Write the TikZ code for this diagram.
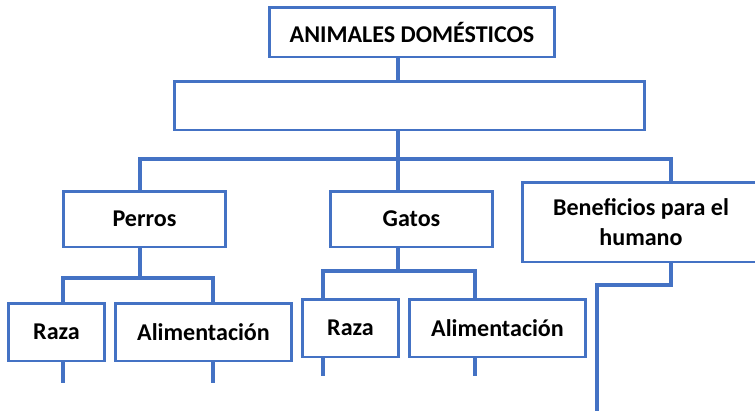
\documentclass[tikz,border=0pt]{standalone}
\usepackage{fontspec}
\setmainfont{Carlito}
\usetikzlibrary{positioning}
\usepackage{xcolor}
\definecolor{azul}{HTML}{4472C4}
\tikzset{
  caja/.style={draw=azul, line width=1.7pt, fill=white, inner sep=0pt, align=center,
    font=\fontsize{13.7}{17.5}\selectfont\bfseries},
  linea/.style={azul, line width=1.9pt},
}

\begin{document}
\begin{tikzpicture}[x=0.02cm,y=-0.02cm]
        \useasboundingbox (0,0) rectangle (755,410);
        \clip (0,0) rectangle (755,410);

        % cajas
        \node[caja, minimum width=5.72cm, minimum height=1cm] (animales) at (412,32) {ANIMALES DOMÉSTICOS};
        \node[caja, minimum width=9.42cm, minimum height=0.98cm] (vacio) at (409.5,105.5) {};
        \node[caja, minimum width=3.26cm, minimum height=1.12cm] (perros) at (144.5,219) {Perros};
        \node[caja, minimum width=3.26cm, minimum height=1.12cm] (gatos) at (411.5,219) {Gatos};
        \node[caja, minimum width=4.76cm, minimum height=1.6cm] (beneficios) at (641,222) {Beneficios para el\\humano};
        \node[caja, minimum width=1.94cm, minimum height=1.16cm] (razaP) at (56.5,332) {Raza};
        \node[caja, minimum width=3.54cm, minimum height=1.16cm] (alimP) at (203.5,332) {Alimentación};
        \node[caja, minimum width=1.94cm, minimum height=1.16cm] (razaG) at (350.5,328) {Raza};
        \node[caja, minimum width=3.54cm, minimum height=1.16cm] (alimG) at (497.5,328) {Alimentación};

        % puntos de las ramas
        \coordinate (tronco) at (398,0);
        \coordinate (ramaA) at (0,159);
        \coordinate (ramaP) at (0,278);
        \coordinate (ramaG) at (0,271);
        \coordinate (xP) at (140,0);
        \coordinate (xB) at (671,0);
        \coordinate (xRP) at (63,0);
        \coordinate (xAP) at (213,0);
        \coordinate (xRG) at (323,0);
        \coordinate (xAG) at (475,0);
        \coordinate (finRP) at (63,383);
        \coordinate (finAP) at (213,383);
        \coordinate (finRG) at (323,376);
        \coordinate (finAG) at (475,376);
        \coordinate (codoB) at (597,285);
        \coordinate (finB) at (597,412);

        % conectores
        \draw[linea] (animales.south -| tronco) -- (vacio.north -| tronco);
        \draw[linea] (vacio.south -| tronco) -- (gatos.north -| tronco);
        \draw[linea] (perros.north -| xP) |- (ramaA -| tronco) -| (beneficios.north -| xB);
        \draw[linea] (perros.south -| xP) -- (ramaP -| xP);
        \draw[linea] (razaP.north -| xRP) |- (ramaP -| xP) -| (alimP.north -| xAP);
        \draw[linea] (gatos.south -| tronco) -- (ramaG -| tronco);
        \draw[linea] (razaG.north -| xRG) |- (ramaG -| tronco) -| (alimG.north -| xAG);
        \draw[linea] (razaP.south -| xRP) -- (finRP);
        \draw[linea] (alimP.south -| xAP) -- (finAP);
        \draw[linea] (razaG.south -| xRG) -- (finRG);
        \draw[linea] (alimG.south -| xAG) -- (finAG);
        \draw[linea] (beneficios.south -| xB) |- (codoB) -- (finB);
\end{tikzpicture}
\end{document}
